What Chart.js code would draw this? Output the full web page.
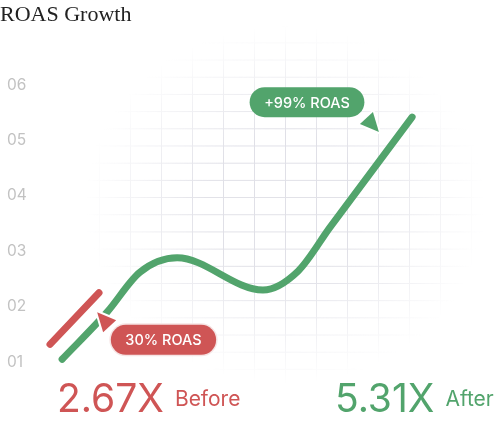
<!DOCTYPE html>
<html>
<head>
<meta charset="utf-8">
<script src="https://cdn.jsdelivr.net/npm/chart.js@4.4.0/dist/chart.umd.min.js"></script>
<style>
  body { margin: 0; background: #fff; }
  #wrap { position: relative; width: 494px; height: 426px; overflow: hidden; font-family: Inter, sans-serif; }
  /* faded background grid, purely decorative */
  #grid {
    position: absolute; left: 0; top: 0; width: 494px; height: 426px;
    background-image: linear-gradient(to right, #e0e0e7 1px, transparent 1px),
                      linear-gradient(to bottom, #e0e0e7 1px, transparent 1px);
    background-size: 31px 17.2px;
    background-position: 6px 8px;
    -webkit-mask-image: radial-gradient(ellipse 200px 180px at 285px 205px, #000 40%, transparent 100%);
    mask-image: radial-gradient(ellipse 200px 180px at 285px 205px, #000 40%, transparent 100%);
  }
  #chartBox { position: absolute; left: 0; top: 0; width: 494px; height: 426px; }
  #title { position: absolute; left: 0; top: 1px; font-family: 'Liberation Serif', serif; font-size: 22px; color: #222; }
  .stat { position: absolute; top: 378px; display: flex; align-items: center; }
  .stat .num { font-size: 39px; line-height: 40px; }
  .stat .lbl { font-size: 21px; margin-left: 11px; }
</style>
</head>
<body>
<div id="wrap">
  <div id="grid"></div>
  <div id="chartBox"><canvas id="roasChart"></canvas></div>
  <div id="title">ROAS Growth</div>
  <div class="stat" id="beforeStat" style="left:57px;color:#cf5555"><span class="num"></span><span class="lbl">Before</span></div>
  <div class="stat" id="afterStat" style="left:335px;color:#52a46c"><span class="num"></span><span class="lbl">After</span></div>
</div>
<script>
// ROAS curve after the change (x = weeks, y = ROAS)
const afterX = [0.81, 2.26, 3.32, 4.52, 7.29, 8.42, 9.45, 12.1];
const afterY = [1.05, 1.90, 2.62, 2.88, 2.30, 2.64, 3.43, 5.42];
// short red segment before the change
const beforeX = [0.42, 2.0];
const beforeY = [1.32, 2.25];

const yTicks = [1, 2, 3, 4, 5, 6];
const yTickLabels = ['01', '02', '03', '04', '05', '06'];

const beforeValue = 2.67;
const afterValue = 5.31;
const calloutTexts = ['30% ROAS', '+99% ROAS'];

const RED = '#cf5555';
const GREEN = '#52a46c';

document.querySelector('#beforeStat .num').innerText = beforeValue.toFixed(2) + 'X';
document.querySelector('#afterStat .num').innerText = afterValue.toFixed(2) + 'X';

// draws the pill labels and the little pointer triangles
const calloutPlugin = {
  id: 'callouts',
  afterDatasetsDraw(chart, args, opts) {
    const ctx = chart.ctx;
    const xs = chart.scales.x, ys = chart.scales.y;
    ctx.save();
    opts.items.forEach(item => {
      // pointer
      const tx = xs.getPixelForValue(item.tipX), ty = ys.getPixelForValue(item.tipY);
      const d = item.dir;
      ctx.beginPath();
      ctx.moveTo(tx, ty);
      ctx.lineTo(tx + d * 19, ty + d * 8);
      ctx.lineTo(tx + d * 6, ty + d * 20);
      ctx.closePath();
      ctx.lineJoin = 'round';
      ctx.strokeStyle = '#fff';
      ctx.lineWidth = 4;
      ctx.stroke();
      ctx.fillStyle = item.color;
      ctx.fill();

      // pill
      ctx.font = '500 14.5px Inter';
      const w = ctx.measureText(item.text).width + 29, h = 30;
      const cx = xs.getPixelForValue(item.x), cy = ys.getPixelForValue(item.y);
      ctx.beginPath();
      ctx.roundRect(cx - w / 2, cy - h / 2, w, h, h / 2);
      if (item.ring) {
        ctx.strokeStyle = item.ring;
        ctx.lineWidth = 3;
        ctx.stroke();
      }
      ctx.fillStyle = item.color;
      ctx.fill();
      ctx.fillStyle = '#fff';
      ctx.textAlign = 'center';
      ctx.textBaseline = 'middle';
      ctx.fillText(item.text, cx, cy + 1);
    });
    ctx.restore();
  }
};

const toPoints = (xs, ys) => xs.map((v, i) => ({ x: v, y: ys[i] }));

new Chart(document.getElementById('roasChart'), {
  type: 'line',
  data: {
    datasets: [
      {
        label: 'After',
        data: toPoints(afterX, afterY),
        borderColor: GREEN,
        borderWidth: 7,
        borderCapStyle: 'round',
        borderJoinStyle: 'round',
        cubicInterpolationMode: 'monotone',
        pointRadius: 0,
        fill: false
      },
      {
        label: 'Before',
        data: toPoints(beforeX, beforeY),
        borderColor: RED,
        borderWidth: 7,
        borderCapStyle: 'round',
        pointRadius: 0,
        fill: false
      }
    ]
  },
  options: {
    responsive: true,
    maintainAspectRatio: false,
    animation: false,
    events: [],
    clip: false,
    layout: { padding: { left: 7, right: 23, top: 68.4, bottom: 52.9 } },
    plugins: {
      legend: { display: false },
      tooltip: { enabled: false },
      callouts: {
        items: [
          { text: calloutTexts[0], x: 4.08, y: 1.40, tipX: 1.94, tipY: 1.90, dir: 1, color: RED, ring: '#f6e4e4' },
          { text: calloutTexts[1], x: 8.71, y: 5.69, tipX: 11.03, tipY: 5.15, dir: -1, color: GREEN }
        ]
      }
    },
    scales: {
      x: { type: 'linear', min: 0, max: 14, display: false },
      y: {
        min: 0.8,
        max: 6.3,
        afterBuildTicks: scale => { scale.ticks = yTicks.map(v => ({ value: v })); },
        afterFit: scale => { scale.width = 30; },
        grid: { display: false },
        border: { display: false },
        ticks: {
          crossAlign: 'far',
          color: '#c2c2c2',
          font: { family: 'Inter', size: 15.5 },
          callback: (v) => yTickLabels[yTicks.indexOf(v)]
        }
      }
    }
  },
  plugins: [calloutPlugin]
});
</script>
</body>
</html>
